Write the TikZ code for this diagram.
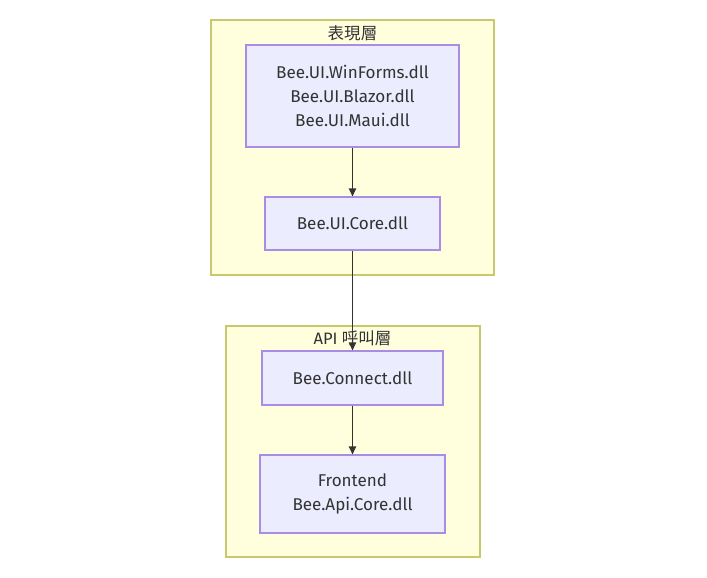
\documentclass[tikz,border=0pt]{standalone}
\usepackage{fontspec}
\setmainfont{Fira Sans}
\newfontfamily\cjk{Noto Sans CJK TC}
\usetikzlibrary{arrows.meta}
\definecolor{clfill}{HTML}{FFFFDE}
\definecolor{cldraw}{HTML}{C8C86E}
\definecolor{ndfill}{HTML}{ECECFF}
\definecolor{nddraw}{HTML}{A88CE6}
\definecolor{txt}{HTML}{333333}
\tikzset{
  cluster/.style={draw=cldraw, fill=clfill, line width=0.9pt, inner sep=0pt},
  box/.style={draw=nddraw, fill=ndfill, line width=0.9pt, inner sep=0pt, align=center,
    text=txt, font=\fontsize{12.8}{18}\selectfont},
  ttl/.style={text=txt, font=\fontsize{12.4}{18}\selectfont, inner sep=0pt},
  link/.style={draw=txt, line width=0.9pt, -{Triangle[length=6pt,width=5.5pt]}}
}
\begin{document}
\begin{tikzpicture}[x=0.75pt,y=-0.75pt]
\useasboundingbox (0,0) rectangle (707,578);
\fill[white] (0,0) rectangle (707,578);
% clusters
\node[cluster, minimum width={283*0.75pt}, minimum height={255*0.75pt}] (c1) at (352.5,147.5) {};
\node[ttl] (t1) at (352.5,33) {\cjk 表現層};
\node[cluster, minimum width={254*0.75pt}, minimum height={231*0.75pt}] (c2) at (353,441.5) {};
\node[ttl] (t2) at (352.5,338) {API {\cjk 呼叫層}};
% nodes
\node[box, minimum width={213*0.75pt}, minimum height={102*0.75pt}] (a) at (352.5,96) {Bee.UI.WinForms.dll\\Bee.UI.Blazor.dll\\Bee.UI.Maui.dll};
\node[box, minimum width={175*0.75pt}, minimum height={53*0.75pt}] (b) at (352.5,223.5) {Bee.UI.Core.dll};
\node[box, minimum width={181*0.75pt}, minimum height={54*0.75pt}] (c) at (352.5,378) {Bee.Connect.dll};
\node[box, minimum width={185*0.75pt}, minimum height={78*0.75pt}] (d) at (352.5,494) {Frontend\\Bee.Api.Core.dll};
% links
\draw[link] (a) -- (b);
\draw[link] (b) -- (c);
\draw[link] (c) -- (d);
\end{tikzpicture}
\end{document}
